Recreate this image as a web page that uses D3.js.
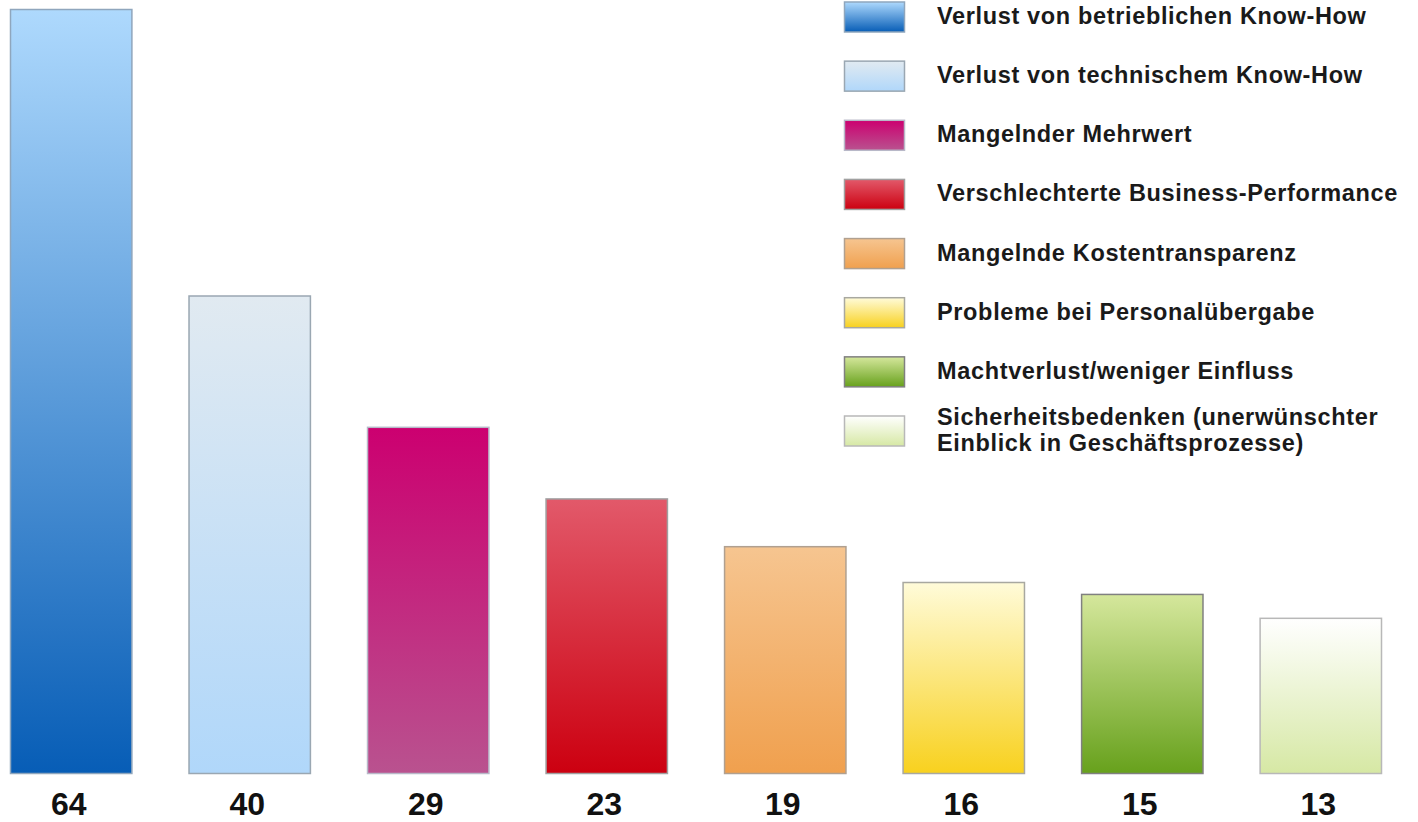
<!DOCTYPE html>
<html>
<head>
<meta charset="utf-8">
<script src="https://cdn.jsdelivr.net/npm/d3@7"></script>
<style>
  body { margin: 0; background: #ffffff; }
  svg { display: block; font-family: "Liberation Sans", Arial, Helvetica, sans-serif; }
</style>
</head>
<body>
<svg id="chart"></svg>
<script>
// chart data
var categories = [
    "Verlust von betrieblichen Know-How",
    "Verlust von technischem Know-How",
    "Mangelnder Mehrwert",
    "Verschlechterte Business-Performance",
    "Mangelnde Kostentransparenz",
    "Probleme bei Personalübergabe",
    "Machtverlust/weniger Einfluss",
    "Sicherheitsbedenken (unerwünschter Einblick in Geschäftsprozesse)"
];
var values = [64, 40, 29, 23, 19, 16, 15, 13];
var legendLines = [
    ["Verlust von betrieblichen Know-How"],
    ["Verlust von technischem Know-How"],
    ["Mangelnder Mehrwert"],
    ["Verschlechterte Business-Performance"],
    ["Mangelnde Kostentransparenz"],
    ["Probleme bei Personalübergabe"],
    ["Machtverlust/weniger Einfluss"],
    ["Sicherheitsbedenken (unerwünschter", "Einblick in Geschäftsprozesse)"]
];
// top / bottom gradient colours per bar
var topColors = ["#aed9fd", "#e1eaf1", "#cc0070", "#e2596a", "#f6c590", "#fffbd9", "#d5e79c", "#ffffff"];
var bottomColors = ["#075db6", "#b0d7fa", "#b9528f", "#cc0010", "#f0a04e", "#f8d11e", "#67a11c", "#d6e8a4"];
var strokeColors = ["#8fa6bd", "#9aa7b2", "#b8b8c8", "#a0a0a0", "#b0a090", "#a8a8a0", "#808080", "#b8b8b8"];

var width = 1418, height = 822;
var svg = d3.select("#chart").attr("width", width).attr("height", height);

var x = d3.scaleBand()
    .domain(d3.range(categories.length))
    .range([10, 1381])
    .paddingInner(0.32)
    .paddingOuter(0);

var y = d3.scaleLinear()
    .domain([0, 64])
    .range([773, 9]);

var defs = svg.append("defs");
categories.forEach(function(c, i) {
    var g = defs.append("linearGradient")
        .attr("id", "grad" + i)
        .attr("x1", 0).attr("y1", 0).attr("x2", 0).attr("y2", 1);
    g.append("stop").attr("offset", "0%").attr("stop-color", topColors[i]);
    g.append("stop").attr("offset", "100%").attr("stop-color", bottomColors[i]);
});

// bars
svg.append("g")
    .attr("class", "bars")
    .selectAll("rect")
    .data(values)
    .enter().append("rect")
    .attr("x", function(d, i) { return x(i) + 0.5; })
    .attr("y", function(d) { return y(d) + 0.5; })
    .attr("width", x.bandwidth())
    .attr("height", function(d) { return y(0) - y(d); })
    .style("fill", function(d, i) { return "url(#grad" + i + ")"; })
    .style("stroke", function(d, i) { return strokeColors[i]; })
    .style("stroke-width", 1.5);

// value labels under the bars
svg.append("g")
    .attr("class", "values")
    .selectAll("text")
    .data(values)
    .enter().append("text")
    .attr("x", function(d, i) { return x(i) + x.bandwidth() / 2 - 2; })
    .attr("y", 815)
    .attr("text-anchor", "middle")
    .style("font-size", "32px")
    .style("font-weight", "bold")
    .style("fill", "#111")
    .text(function(d) { return d; });

// legend
var legendY = d3.scaleLinear().domain([0, 7]).range([17, 431]);
var legend = svg.append("g").attr("class", "legend")
    .selectAll("g")
    .data(categories)
    .enter().append("g")
    .attr("transform", function(d, i) { return "translate(0," + legendY(i) + ")"; });

legend.append("rect")
    .attr("x", 844.5)
    .attr("y", -15)
    .attr("width", 60)
    .attr("height", 30)
    .style("fill", function(d, i) { return "url(#grad" + i + ")"; })
    .style("stroke", function(d, i) { return strokeColors[i]; })
    .style("stroke-width", 1.5);

legend.append("text")
    .attr("x", 937)
    .style("font-size", "23.5px")
    .style("font-weight", "bold")
    .style("letter-spacing", "0.65px")
    .style("fill", "#1a1a1a")
    .each(function(d, i) {
        var lines = legendLines[i];
        var t = d3.select(this);
        lines.forEach(function(l, j) {
            t.append("tspan")
                .attr("x", 937)
                .attr("y", (j - (lines.length - 1) / 2) * 26 + 7)
                .text(l);
        });
    });
</script>
</body>
</html>
